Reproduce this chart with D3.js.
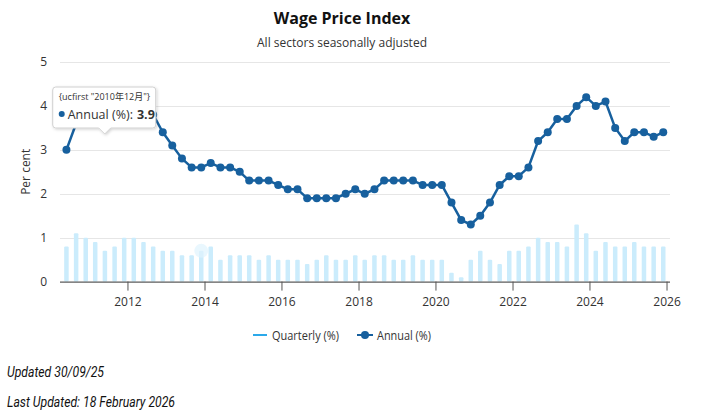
<!DOCTYPE html>
<html>
<head>
<meta charset="utf-8">
<script src="https://cdn.jsdelivr.net/npm/d3@7"></script>
<style>
    body { margin: 0; background: #fff; }
    #chart text { font-family: "Open Sans", "Noto Sans", sans-serif; }
    #chart .note { font-family: "Roboto", sans-serif; font-style: italic; }
</style>
</head>
<body>
<div id="chart"></div>
<script>
// quarter ends, Jun 2010 .. Dec 2025
const firstQuarter = new Date(2010, 5, 1);
const lastQuarter = new Date(2025, 11, 1);

const annual = [
    3.0, 3.6, 3.9,
    3.8, 3.9, 4.0, 3.9,
    4.0, 4.1, 3.8, 3.4,
    3.1, 2.8, 2.6, 2.6,
    2.7, 2.6, 2.6, 2.5,
    2.3, 2.3, 2.3, 2.2,
    2.1, 2.1, 1.9, 1.9,
    1.9, 1.9, 2.0, 2.1,
    2.0, 2.1, 2.3, 2.3,
    2.3, 2.3, 2.2, 2.2,
    2.2, 1.8, 1.4, 1.3,
    1.5, 1.8, 2.2, 2.4,
    2.4, 2.6, 3.2, 3.4,
    3.7, 3.7, 4.0, 4.2,
    4.0, 4.1, 3.5, 3.2,
    3.4, 3.4, 3.3, 3.4
];

const quarterly = [
    0.8, 1.1, 1.0,
    0.9, 0.7, 0.8, 1.0,
    1.0, 0.9, 0.8, 0.7,
    0.7, 0.6, 0.6, 0.7,
    0.8, 0.5, 0.6, 0.6,
    0.6, 0.5, 0.6, 0.5,
    0.5, 0.5, 0.4, 0.5,
    0.6, 0.5, 0.5, 0.6,
    0.5, 0.6, 0.6, 0.5,
    0.5, 0.6, 0.5, 0.5,
    0.5, 0.2, 0.1, 0.5,
    0.7, 0.5, 0.4, 0.7,
    0.7, 0.8, 1.0, 0.9,
    0.9, 0.8, 1.3, 1.1,
    0.7, 0.9, 0.8, 0.8,
    0.9, 0.8, 0.8, 0.8
];

const yTicks = [0, 1, 2, 3, 4, 5];
const xTickYears = [2012, 2014, 2016, 2018, 2020, 2022, 2024, 2026];

const tooltipIndex = 2;      // 2010年12月
const haloIndex = 14;        // hover halo left on a quarterly bar

const lineColor = "#17609e";
const barColor = "#cbecfc";
const quarterlyLegendColor = "#2ba9ea";

const width = 710, height = 415;
const plot = {left: 60, right: 670, top: 62, bottom: 281.6};

const dates = d3.timeMonth.range(firstQuarter, d3.timeMonth.offset(lastQuarter, 1), 3);
const rows = dates.map((d, i) => ({date: d, annual: annual[i], quarterly: quarterly[i]}));

const svg = d3.select("#chart")
    .append("svg")
    .attr("width", width)
    .attr("height", height);

const x = d3.scaleTime()
    .domain([new Date(2010, 3, 1), new Date(2026, 1, 3)])
    .range([plot.left, plot.right]);

const y = d3.scaleLinear()
    .domain([0, 5])
    .range([plot.bottom, plot.top]);

renderTitles();
renderGrid();
renderBars();
renderAxes();
renderLine();
renderTooltip();
renderLegend();
renderNotes();

function renderTitles(){
    svg.append("text")
        .attr("x", 342).attr("y", 24)
        .attr("text-anchor", "middle")
        .attr("font-size", 16).attr("font-weight", 700)
        .attr("fill", "#111")
        .text("Wage Price Index");

    svg.append("text")
        .attr("x", 342).attr("y", 47)
        .attr("text-anchor", "middle")
        .attr("font-size", 12)
        .attr("fill", "#333")
        .text("All sectors seasonally adjusted");
}

function renderGrid(){
    svg.append("g")
        .selectAll("line")
        .data(yTicks.filter(t => t > 0))
        .join("line")
        .attr("x1", plot.left).attr("x2", plot.right)
        .attr("y1", d => Math.round(y(d)) + 0.5)
        .attr("y2", d => Math.round(y(d)) + 0.5)
        .attr("stroke", "#e6e6e6");
}

function renderBars(){
    const barWidth = 4.5;
    svg.append("g")
        .selectAll("rect")
        .data(rows)
        .join("rect")
        .attr("x", d => x(d.date) - barWidth / 2)
        .attr("y", d => y(d.quarterly))
        .attr("width", barWidth)
        .attr("height", d => y(0) - y(d.quarterly))
        .attr("rx", 1)
        .attr("fill", barColor);

    const halo = rows[haloIndex];
    svg.append("circle")
        .attr("cx", x(halo.date))
        .attr("cy", y(halo.quarterly))
        .attr("r", 7)
        .attr("fill", "#dff3fd")
        .attr("opacity", 0.7);
}

function renderAxes(){
    const xAxis = d3.axisBottom(x)
        .tickValues(xTickYears.map(yr => new Date(yr, 0, 1)))
        .tickFormat(d3.timeFormat("%Y"))
        .tickSize(9)
        .tickPadding(7);

    const gx = svg.append("g")
        .attr("transform", `translate(0,${plot.bottom})`)
        .call(xAxis);
    gx.select(".domain").attr("stroke", "#333").attr("d", `M${plot.left},0.5H${plot.right}`);
    gx.selectAll(".tick line").attr("stroke", "#555");
    gx.selectAll(".tick text")
        .attr("font-size", 12)
        .attr("fill", "#333")
        .attr("font-family", "\"Open Sans\", sans-serif");

    const yAxis = d3.axisLeft(y)
        .tickValues(yTicks)
        .tickFormat(d3.format("d"))
        .tickSize(0)
        .tickPadding(13);

    const gy = svg.append("g")
        .attr("transform", `translate(${plot.left},0)`)
        .call(yAxis);
    gy.select(".domain").remove();
    gy.selectAll(".tick text")
        .attr("font-size", 12)
        .attr("fill", "#333")
        .attr("font-family", "\"Open Sans\", sans-serif");

    svg.append("text")
        .attr("transform", `translate(30,${(plot.top + plot.bottom) / 2}) rotate(-90)`)
        .attr("text-anchor", "middle")
        .attr("font-size", 12)
        .attr("fill", "#333")
        .text("Per cent");
}

function renderLine(){
    const line = d3.line()
        .x(d => x(d.date))
        .y(d => y(d.annual));

    svg.append("path")
        .datum(rows)
        .attr("d", line)
        .attr("fill", "none")
        .attr("stroke", lineColor)
        .attr("stroke-width", 2.5)
        .attr("stroke-linejoin", "round");

    svg.append("g")
        .selectAll("circle")
        .data(rows)
        .join("circle")
        .attr("cx", d => x(d.date))
        .attr("cy", d => y(d.annual))
        .attr("r", 4)
        .attr("fill", lineColor);
}

function renderTooltip(){
    const point = rows[tooltipIndex];
    const anchorX = x(point.date) + 19;
    const box = {x: anchorX - 52, y: 87, w: 103, h: 41};

    const defs = svg.append("defs");
    const shadow = defs.append("filter").attr("id", "tip-shadow")
        .attr("x", "-20%").attr("y", "-20%").attr("width", "150%").attr("height", "160%");
    shadow.append("feDropShadow")
        .attr("dx", 1).attr("dy", 1).attr("stdDeviation", 1.5)
        .attr("flood-color", "#000").attr("flood-opacity", 0.18);

    const tip = svg.append("g");
    const b = box;
    const r = 3;
    const path = `M${b.x + r},${b.y}H${b.x + b.w - r}Q${b.x + b.w},${b.y} ${b.x + b.w},${b.y + r}`
        + `V${b.y + b.h - r}Q${b.x + b.w},${b.y + b.h} ${b.x + b.w - r},${b.y + b.h}`
        + `H${anchorX + 6}L${anchorX},${b.y + b.h + 6}L${anchorX - 6},${b.y + b.h}`
        + `H${b.x + r}Q${b.x},${b.y + b.h} ${b.x},${b.y + b.h - r}`
        + `V${b.y + r}Q${b.x},${b.y} ${b.x + r},${b.y}Z`;

    tip.append("path")
        .attr("d", path)
        .attr("fill", "#fff")
        .attr("stroke", "#d0d0d0")
        .attr("filter", "url(#tip-shadow)");

    tip.append("text")
        .attr("x", b.x + 6).attr("y", b.y + 13)
        .attr("font-size", 9)
        .attr("fill", "#333")
        .style("font-family", "\"Open Sans\", \"Noto Sans CJK SC\", sans-serif")
        .text(`{ucfirst "${d3.timeFormat("%Y")(point.date)}年${+d3.timeFormat("%m")(point.date)}月"}`);

    tip.append("circle")
        .attr("cx", b.x + 9).attr("cy", b.y + 27)
        .attr("r", 3)
        .attr("fill", lineColor);

    const label = tip.append("text")
        .attr("x", b.x + 15).attr("y", b.y + 31.5)
        .attr("font-size", 12.5)
        .attr("fill", "#333")
        .text("Annual (%):");

    const labelEnd = b.x + 15 + label.node().getComputedTextLength();
    tip.append("text")
        .attr("x", labelEnd + 4).attr("y", b.y + 31.5)
        .attr("font-size", 12.5).attr("font-weight", 700)
        .attr("fill", "#333")
        .text(point.annual.toFixed(1));
}

function renderLegend(){
    const legend = svg.append("g").attr("transform", "translate(0,335)");

    legend.append("line")
        .attr("x1", 253).attr("x2", 267)
        .attr("stroke", quarterlyLegendColor).attr("stroke-width", 2);
    legend.append("text")
        .attr("x", 272).attr("y", 4.5)
        .attr("font-size", 12).attr("fill", "#333")
        .attr("textLength", 67).attr("lengthAdjust", "spacingAndGlyphs")
        .text("Quarterly (%)");

    legend.append("line")
        .attr("x1", 357).attr("x2", 373)
        .attr("stroke", lineColor).attr("stroke-width", 2);
    legend.append("circle")
        .attr("cx", 365).attr("r", 4)
        .attr("fill", lineColor);
    legend.append("text")
        .attr("x", 377).attr("y", 4.5)
        .attr("font-size", 12).attr("fill", "#333")
        .attr("textLength", 54).attr("lengthAdjust", "spacingAndGlyphs")
        .text("Annual (%)");
}

function renderNotes(){
    svg.append("text")
        .attr("class", "note")
        .attr("x", 7).attr("y", 377)
        .attr("font-size", 14).attr("fill", "#111")
        .attr("textLength", 97).attr("lengthAdjust", "spacingAndGlyphs")
        .text("Updated 30/09/25");

    svg.append("text")
        .attr("class", "note")
        .attr("x", 7).attr("y", 407)
        .attr("font-size", 14).attr("fill", "#111")
        .attr("textLength", 168).attr("lengthAdjust", "spacingAndGlyphs")
        .text("Last Updated: 18 February 2026");
}
</script>
</body>
</html>
